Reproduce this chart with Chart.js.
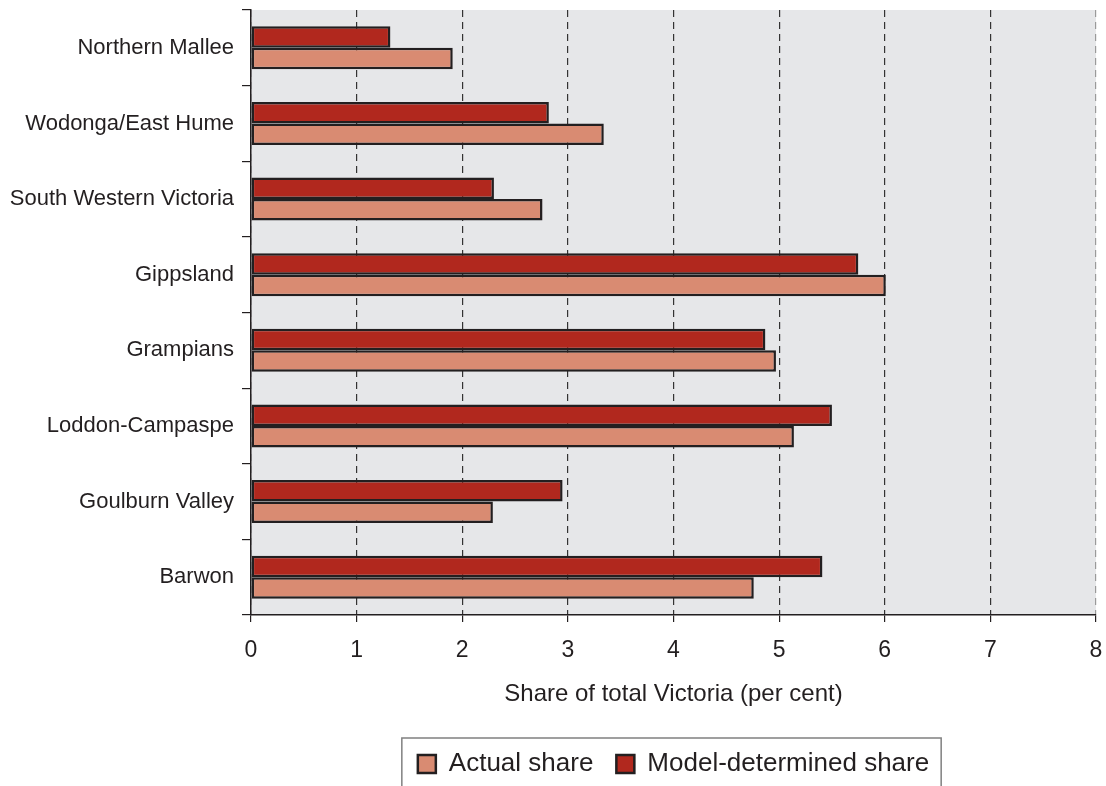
<!DOCTYPE html>
<html>
<head>
<meta charset="utf-8">
<script src="https://cdn.jsdelivr.net/npm/chart.js@4"></script>
<style>
  html, body { margin: 0; padding: 0; background: #fff; }
  #wrap { width: 1106px; height: 786px; }
</style>
</head>
<body>
<div id="wrap"><canvas id="regionChart" width="1106" height="786"></canvas></div>
<script>
const regions = [
  "Northern Mallee",
  "Wodonga/East Hume",
  "South Western Victoria",
  "Gippsland",
  "Grampians",
  "Loddon-Campaspe",
  "Goulburn Valley",
  "Barwon"
];
const actualShare = [1.91, 3.34, 2.76, 6.01, 4.97, 5.14, 2.29, 4.76];
const modelShare = [1.32, 2.82, 2.30, 5.75, 4.87, 5.50, 2.95, 5.41];
const xTicks = [0, 1, 2, 3, 4, 5, 6, 7, 8];

const FONT = "'Liberation Sans', Arial, sans-serif";
const INK = "#231f20";

// grey panel behind the bars
const plotBackground = {
  id: "plotBackground",
  beforeDraw(chart) {
    const { ctx, chartArea: a } = chart;
    ctx.save();
    ctx.fillStyle = "#e6e7e9";
    ctx.fillRect(a.left, a.top, a.right - a.left, a.bottom - a.top);
    ctx.restore();
  }
};

// frame around the legend, open at the bottom edge
const legendFrame = {
  id: "legendFrame",
  afterDraw(chart) {
    const boxes = chart.legend.legendHitBoxes;
    if (!boxes || !boxes.length) return;
    const left = boxes[0].left - 16;
    const last = boxes[boxes.length - 1];
    const right = last.left + last.width + 12;
    const top = boxes[0].top - 13;
    const { ctx } = chart;
    ctx.save();
    ctx.strokeStyle = "#808080";
    ctx.lineWidth = 1.5;
    ctx.beginPath();
    ctx.moveTo(left, chart.height + 2);
    ctx.lineTo(left, top);
    ctx.lineTo(right, top);
    ctx.lineTo(right, chart.height + 2);
    ctx.stroke();
    ctx.restore();
  }
};

// keep tick labels from adding their own margins round the plot
function noEdgePadding(scale) {
  scale.paddingTop = 0;
  scale.paddingBottom = 0;
  scale.paddingLeft = 0;
  scale.paddingRight = 0;
}

const ctx = document.getElementById("regionChart").getContext("2d");
new Chart(ctx, {
  type: "bar",
  data: {
    labels: regions,
    datasets: [
      {
        label: "Model-determined share",
        data: modelShare,
        backgroundColor: "#b1281e",
        borderColor: INK,
        borderWidth: 2.5,
        borderSkipped: false
      },
      {
        label: "Actual share",
        data: actualShare,
        backgroundColor: "#d98b72",
        borderColor: INK,
        borderWidth: 2.5,
        borderSkipped: false
      }
    ]
  },
  options: {
    indexAxis: "y",
    responsive: false,
    animation: false,
    categoryPercentage: 0.57,
    barPercentage: 1.0,
    layout: {
      padding: { top: 10, right: 10, left: 0, bottom: -1 }
    },
    plugins: {
      legend: {
        position: "bottom",
        fullSize: false,
        reverse: true,
        labels: {
          color: INK,
          font: { family: FONT, size: 26 },
          boxWidth: 18,
          boxHeight: 18,
          padding: 23
        }
      },
      tooltip: { enabled: false }
    },
    scales: {
      x: {
        min: 0,
        max: 8,
        afterBuildTicks(scale) {
          scale.ticks = xTicks.map(v => ({ value: v }));
        },
        afterFit(scale) {
          scale.height = 113;
          noEdgePadding(scale);
        },
        ticks: {
          color: INK,
          font: { family: FONT, size: 23 },
          padding: 15
        },
        grid: {
          color: ctx => (ctx.tick && ctx.tick.value === 8 ? "#9a9a9a" : "#333"),
          lineWidth: 1.2,
          drawTicks: true,
          tickLength: 7,
          tickColor: INK,
          tickBorderDash: []
        },
        border: { display: true, color: INK, width: 1.5, dash: [7, 5] },
        title: {
          display: true,
          text: "Share of total Victoria (per cent)",
          color: INK,
          font: { family: FONT, size: 24 },
          padding: { top: 0, bottom: 19 }
        }
      },
      y: {
        afterFit(scale) {
          scale.width = 251;
          noEdgePadding(scale);
        },
        ticks: {
          color: INK,
          font: { family: FONT, size: 22 },
          padding: 8
        },
        grid: {
          offset: true,
          drawOnChartArea: false,
          tickLength: 9,
          color: INK,
          lineWidth: 1.2
        },
        border: { display: true, color: INK, width: 1.5 }
      }
    }
  },
  plugins: [plotBackground, legendFrame]
});
</script>
</body>
</html>
